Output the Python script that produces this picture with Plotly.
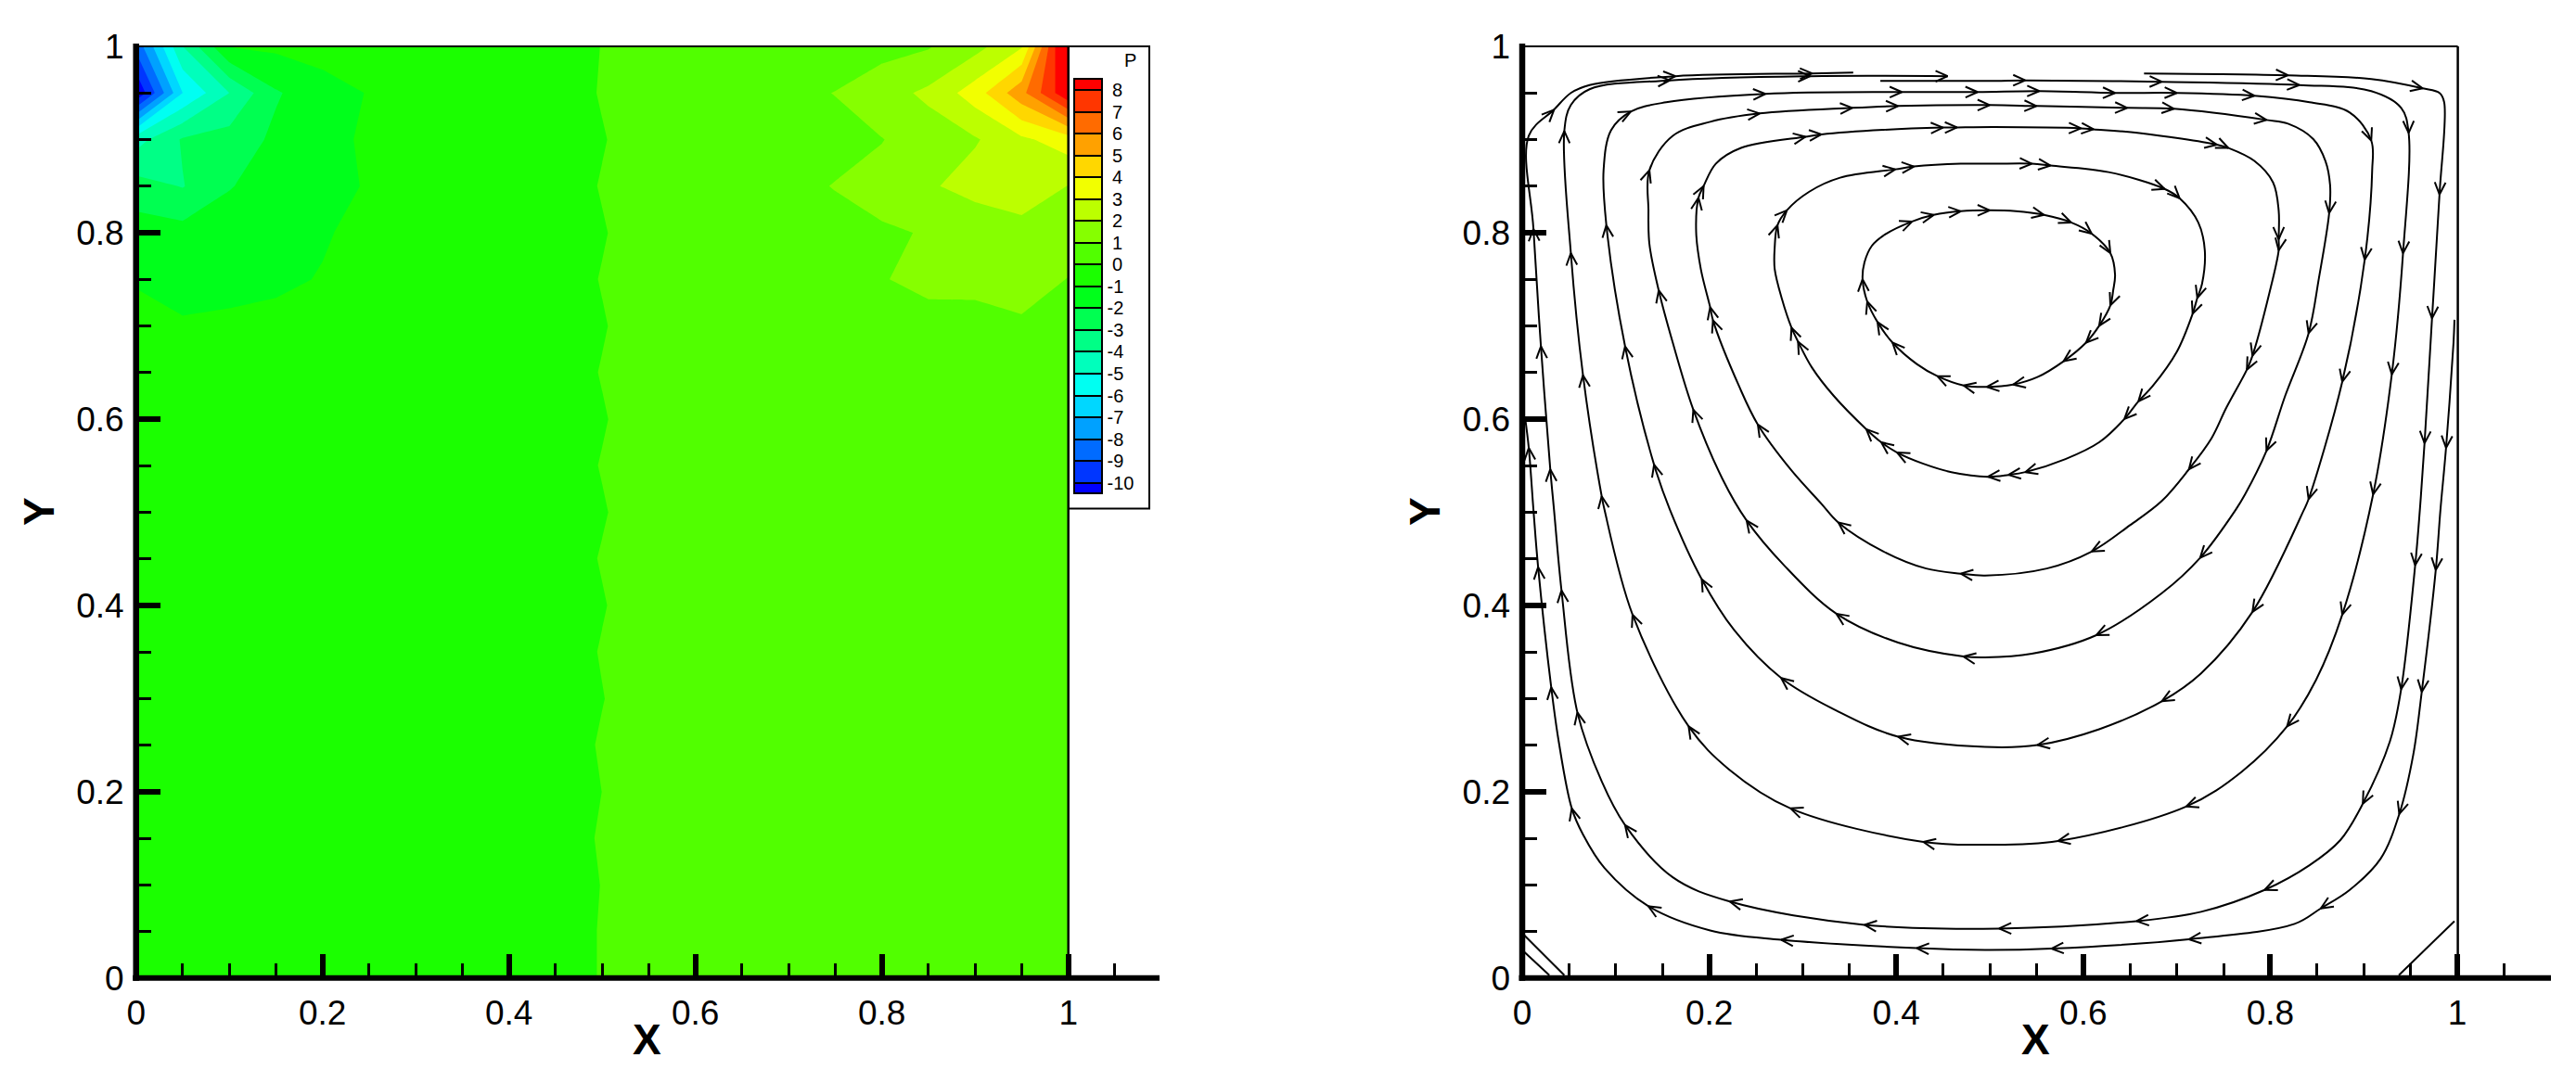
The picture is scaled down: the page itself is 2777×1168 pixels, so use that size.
import math

import plotly.graph_objects as go

# grid of the pressure field
grid_x = [0, 0.05, 0.1, 0.15, 0.2, 0.25, 0.3, 0.35, 0.4, 0.45, 0.5,
          0.55, 0.6, 0.65, 0.7, 0.75, 0.8, 0.85, 0.9, 0.95, 1]
grid_y = [1, 0.95, 0.9, 0.85, 0.8, 0.75, 0.7, 0.65, 0.6, 0.55, 0.5,
          0.45, 0.4, 0.35, 0.3, 0.25, 0.2, 0.15, 0.1, 0.05, 0]

pressure = [
    [-8.7, -4.0, -0.95, -0.8, -0.6, -0.5, -0.45, -0.4, -0.35, -0.25, 0.0125, 0.25, 0.3, 0.35, 0.42, 0.52, 0.65, 0.92, 1.65, 2.9, 10],
    [-11, -6, -4, -2.1, -1.4, -0.95, -0.8, -0.65, -0.5, -0.25, 0.035, 0.25, 0.45, 0.6, 0.8, 1.02, 1.6, 2.2, 3.5, 5.7, 8.9],
    [-4.4, -2.9, -2.6, -1.8, -1.3, -0.85, -0.7, -0.6, -0.45, -0.25, -0.03, 0.25, 0.4, 0.5, 0.6, 0.75, 0.97, 1.5, 1.9, 2.8, 3.53],
    [-2.6, -3.05, -2.05, -1.6, -1.2, -0.95, -0.7, -0.55, -0.45, -0.25, 0.03, 0.25, 0.35, 0.45, 0.8, 1.03, 1.3, 1.85, 2.45, 2.75, 1.97],
    [-1.5, -1.65, -1.55, -1.3, -1.05, -0.85, -0.65, -0.5, -0.4, -0.25, -0.035, 0.25, 0.32, 0.42, 0.55, 0.75, 0.9, 1.05, 1.15, 1.55, 1.4],
    [-1.05, -1.25, -1.2, -1.1, -0.97, -0.75, -0.6, -0.5, -0.4, -0.25, 0.025, 0.25, 0.3, 0.4, 0.5, 0.7, 0.97, 1.15, 1.2, 1.3, 0.98],
    [-0.8, -0.93, -0.88, -0.85, -0.75, -0.65, -0.55, -0.45, -0.35, -0.25, -0.035, 0.25, 0.3, 0.35, 0.45, 0.55, 0.75, 0.8, 0.75, 0.9, 0.82],
    [-0.7, -0.75, -0.72, -0.7, -0.62, -0.55, -0.5, -0.42, -0.33, -0.25, 0.025, 0.25, 0.28, 0.33, 0.4, 0.48, 0.58, 0.68, 0.7, 0.72, 0.65],
    [-0.62, -0.65, -0.62, -0.6, -0.55, -0.5, -0.45, -0.4, -0.32, -0.25, -0.0375, 0.25, 0.27, 0.32, 0.38, 0.43, 0.5, 0.56, 0.6, 0.6, 0.58],
    [-0.55, -0.57, -0.55, -0.52, -0.5, -0.46, -0.42, -0.37, -0.3, -0.25, 0.025, 0.25, 0.27, 0.3, 0.35, 0.4, 0.44, 0.48, 0.52, 0.52, 0.5],
    [-0.5, -0.5, -0.48, -0.46, -0.44, -0.42, -0.38, -0.34, -0.3, -0.25, -0.0375, 0.25, 0.26, 0.3, 0.33, 0.36, 0.4, 0.43, 0.45, 0.45, 0.45],
    [-0.45, -0.45, -0.43, -0.42, -0.4, -0.38, -0.36, -0.32, -0.28, -0.25, 0.03, 0.25, 0.26, 0.28, 0.31, 0.33, 0.36, 0.38, 0.4, 0.4, 0.4],
    [-0.4, -0.4, -0.39, -0.38, -0.37, -0.35, -0.33, -0.3, -0.28, -0.25, -0.03, 0.25, 0.26, 0.27, 0.29, 0.31, 0.33, 0.35, 0.36, 0.36, 0.36],
    [-0.37, -0.36, -0.36, -0.35, -0.34, -0.33, -0.31, -0.29, -0.27, -0.25, 0.03, 0.25, 0.25, 0.27, 0.28, 0.29, 0.31, 0.32, 0.33, 0.33, 0.33],
    [-0.34, -0.33, -0.33, -0.32, -0.32, -0.3, -0.29, -0.28, -0.26, -0.25, -0.015, 0.25, 0.25, 0.26, 0.27, 0.28, 0.29, 0.3, 0.3, 0.3, 0.3],
    [-0.31, -0.31, -0.3, -0.3, -0.29, -0.29, -0.28, -0.27, -0.26, -0.25, 0.045, 0.25, 0.25, 0.25, 0.26, 0.27, 0.27, 0.28, 0.28, 0.28, 0.28],
    [-0.29, -0.29, -0.28, -0.28, -0.28, -0.27, -0.27, -0.26, -0.25, -0.25, 0.0025, 0.25, 0.25, 0.25, 0.25, 0.26, 0.26, 0.26, 0.26, 0.27, 0.27],
    [-0.28, -0.27, -0.27, -0.27, -0.26, -0.26, -0.26, -0.25, -0.25, -0.25, 0.05, 0.25, 0.25, 0.25, 0.25, 0.25, 0.25, 0.25, 0.25, 0.25, 0.25],
    [-0.27, -0.27, -0.26, -0.26, -0.26, -0.25, -0.25, -0.25, -0.25, -0.25, 0.0125, 0.25, 0.25, 0.25, 0.25, 0.25, 0.25, 0.25, 0.25, 0.25, 0.25],
    [-0.26, -0.26, -0.26, -0.25, -0.25, -0.25, -0.25, -0.25, -0.25, -0.25, 0.0325, 0.25, 0.25, 0.25, 0.25, 0.25, 0.25, 0.25, 0.25, 0.25, 0.25],
    [-0.26, -0.25, -0.25, -0.25, -0.25, -0.25, -0.25, -0.25, -0.25, -0.25, 0.0325, 0.25, 0.25, 0.25, 0.25, 0.25, 0.25, 0.25, 0.25, 0.25, 0.25],
]

level_labels = ["-10", "-9", "-8", "-7", "-6", "-5", "-4", "-3", "-2", "-1",
                "\u00a00", "\u00a01", "\u00a02", "\u00a03", "\u00a04", "\u00a05", "\u00a06", "\u00a07", "\u00a08"]
level_vals = [-10, -9, -8, -7, -6, -5, -4, -3, -2, -1, 0, 1, 2, 3, 4, 5, 6, 7, 8]
band_colors = ["#0000ff", "#0036ff", "#006bff", "#00a1ff", "#00d7ff", "#00fff2", "#00ffbc",
               "#00ff86", "#00ff51", "#00ff1b", "#1bff00", "#51ff00", "#86ff00", "#bcff00",
               "#f2ff00", "#ffd700", "#ffa100", "#ff6b00", "#ff3600", "#ff0000"]

# streamlines of the right panel, traced clockwise; *_arrows = index of points carrying a head
stream_a_x = [0.497, 0.472, 0.444, 0.422, 0.396, 0.380, 0.369, 0.364, 0.366, 0.374, 0.388, 0.417, 0.440, 0.469, 0.500,
              0.528, 0.558, 0.587, 0.609, 0.629, 0.634, 0.632, 0.629, 0.617, 0.603, 0.579, 0.551, 0.525, 0.497]
stream_a_y = [0.6345, 0.636, 0.646, 0.659, 0.682, 0.704, 0.726, 0.750, 0.768, 0.786, 0.798, 0.812, 0.819, 0.823, 0.824,
              0.823, 0.819, 0.811, 0.799, 0.778, 0.755, 0.738, 0.722, 0.700, 0.682, 0.662, 0.645, 0.637, 0.6345]
stream_a_arrows = [1, 2, 4, 5, 6, 7, 11, 12, 13, 14, 16, 17, 18, 19, 22, 23, 24, 25, 27, 28]

stream_b_x = [0.498, 0.459, 0.429, 0.401, 0.384, 0.368, 0.333, 0.310, 0.295, 0.288, 0.278, 0.270, 0.270, 0.273, 0.283,
              0.307, 0.340, 0.399, 0.419, 0.469, 0.505, 0.545, 0.565, 0.627, 0.687, 0.703, 0.723, 0.730, 0.727, 0.722,
              0.717, 0.700, 0.674, 0.659, 0.644, 0.617, 0.581, 0.538, 0.520, 0.498]
stream_b_y = [0.538, 0.543, 0.552, 0.564, 0.575, 0.589, 0.625, 0.655, 0.683, 0.698, 0.728, 0.761, 0.784, 0.808, 0.824,
              0.844, 0.859, 0.868, 0.871, 0.874, 0.874, 0.874, 0.872, 0.865, 0.847, 0.837, 0.811, 0.781, 0.745, 0.730,
              0.713, 0.672, 0.635, 0.619, 0.600, 0.575, 0.557, 0.543, 0.540, 0.538]
stream_b_arrows = [3, 4, 5, 8, 9, 13, 14, 17, 18, 21, 22, 24, 25, 29, 30, 33, 34, 37, 38, 39]

stream_c_x = [0.495, 0.469, 0.432, 0.386, 0.338, 0.320, 0.287, 0.252, 0.232, 0.204, 0.201, 0.191, 0.186, 0.1885, 0.194,
              0.207, 0.234, 0.303, 0.320, 0.386, 0.450, 0.465, 0.505, 0.5976, 0.611, 0.660, 0.743, 0.755, 0.783, 0.803,
              0.809, 0.809, 0.809, 0.799, 0.781, 0.775, 0.753, 0.737, 0.713, 0.684, 0.650, 0.609, 0.561, 0.495]
stream_c_y = [0.432, 0.434, 0.4395, 0.458, 0.489, 0.509, 0.546, 0.594, 0.635, 0.706, 0.720, 0.761, 0.801, 0.8375, 0.850,
              0.874, 0.891, 0.903, 0.9055, 0.9104, 0.9128, 0.913, 0.9134, 0.912, 0.911, 0.907, 0.8945, 0.891, 0.877, 0.854,
              0.824, 0.793, 0.781, 0.735, 0.668, 0.653, 0.612, 0.579, 0.546, 0.512, 0.486, 0.4577, 0.4395, 0.432]
stream_c_arrows = [1, 4, 7, 9, 10, 13, 14, 17, 18, 20, 21, 23, 24, 26, 27, 31, 32, 34, 35, 38, 41]

stream_d_x = [0.495, 0.472, 0.402, 0.336, 0.280, 0.240, 0.214, 0.183, 0.161, 0.146, 0.136, 0.135, 0.136, 0.161, 0.201,
              0.254, 0.353, 0.402, 0.500, 0.550, 0.647, 0.697, 0.796, 0.819, 0.846, 0.859, 0.864, 0.863, 0.852, 0.841,
              0.816, 0.796, 0.773, 0.763, 0.725, 0.684, 0.614, 0.545, 0.495]
stream_d_y = [0.344, 0.345, 0.360, 0.391, 0.443, 0.491, 0.536, 0.610, 0.682, 0.738, 0.788, 0.824, 0.867, 0.904, 0.919,
              0.928, 0.934, 0.936, 0.937, 0.936, 0.934, 0.933, 0.921, 0.917, 0.9005, 0.877, 0.851, 0.821, 0.751, 0.692,
              0.625, 0.566, 0.519, 0.5025, 0.451, 0.413, 0.368, 0.348, 0.344]
stream_d_arrows = [1, 3, 5, 7, 9, 12, 15, 16, 17, 18, 19, 20, 21, 22, 27, 29, 31, 34, 36]

stream_e_x = [0.495, 0.402, 0.336, 0.277, 0.227, 0.192, 0.158, 0.141, 0.110, 0.090, 0.087, 0.095, 0.116, 0.154, 0.260,
              0.406, 0.487, 0.553, 0.634, 0.700, 0.783, 0.842, 0.885, 0.908, 0.909, 0.901, 0.877, 0.841, 0.836, 0.781,
              0.726, 0.684, 0.617, 0.551, 0.495]
stream_e_y = [0.248, 0.259, 0.287, 0.322, 0.373, 0.428, 0.5025, 0.551, 0.678, 0.808, 0.867, 0.910, 0.930, 0.940, 0.949,
              0.951, 0.951, 0.952, 0.950, 0.950, 0.947, 0.940, 0.929, 0.899, 0.867, 0.771, 0.640, 0.514, 0.5025, 0.393,
              0.327, 0.297, 0.267, 0.250, 0.248]
stream_e_arrows = [1, 3, 5, 7, 8, 9, 12, 14, 15, 16, 17, 18, 19, 20, 23, 25, 26, 27, 29, 31, 33]

stream_f_x = [0.383, 0.505, 0.538, 0.684, 0.831, 0.908, 0.940, 0.948, 0.942, 0.930, 0.910, 0.877, 0.849, 0.818, 0.769,
              0.710, 0.573, 0.495, 0.429, 0.287, 0.221, 0.178, 0.118, 0.088, 0.085, 0.065, 0.052, 0.045, 0.052, 0.072,
              0.158, 0.308, 0.455]
stream_f_y = [0.963, 0.963, 0.9635, 0.962, 0.9585, 0.952, 0.934, 0.907, 0.778, 0.648, 0.519, 0.390, 0.320, 0.270, 0.221,
              0.184, 0.147, 0.143, 0.146, 0.182, 0.224, 0.270, 0.390, 0.5025, 0.517, 0.647, 0.778, 0.909, 0.937, 0.954,
              0.9635, 0.968, 0.968]
stream_f_arrows = [2, 3, 4, 7, 8, 9, 10, 11, 13, 15, 16, 18, 19, 21, 22, 24, 25, 26, 27, 30, 31, 32]

stream_g_x = [0.665, 0.819, 0.908, 0.963, 0.981, 0.986, 0.981, 0.973, 0.965, 0.960, 0.955, 0.940, 0.928, 0.899, 0.875,
              0.842, 0.794, 0.726, 0.657, 0.510, 0.366, 0.222, 0.161, 0.110, 0.085, 0.059, 0.042, 0.034, 0.030, 0.020,
              0.012, 0.007, 0.034, 0.052, 0.072, 0.164, 0.310, 0.354]
stream_g_y = [0.971, 0.969, 0.965, 0.955, 0.950, 0.940, 0.841, 0.708, 0.574, 0.5025, 0.443, 0.310, 0.254, 0.187, 0.148,
              0.121, 0.0945, 0.071, 0.061, 0.053, 0.057, 0.082, 0.108, 0.164, 0.211, 0.285, 0.416, 0.5025, 0.546, 0.678,
              0.804, 0.904, 0.932, 0.950, 0.9585, 0.968, 0.971, 0.972]
stream_g_arrows = [1, 3, 6, 7, 8, 10, 11, 13, 16, 18, 19, 20, 21, 23, 25, 26, 28, 29, 30, 32, 35, 36]

stream_h_x = [0.997, 0.996, 0.988, 0.982, 0.977, 0.962, 0.953, 0.938, 0.918, 0.885, 0.854, 0.826, 0.713, 0.566, 0.495,
              0.422, 0.277, 0.201, 0.135, 0.088, 0.065, 0.053, 0.039, 0.031, 0.017, 0.012, 0.007, 0.003]
stream_h_y = [0.7065, 0.682, 0.569, 0.5025, 0.438, 0.307, 0.240, 0.176, 0.128, 0.0945, 0.0746, 0.058, 0.0415, 0.0315, 0.030,
              0.032, 0.041, 0.051, 0.077, 0.118, 0.154, 0.182, 0.254, 0.312, 0.441, 0.5025, 0.569, 0.602]
stream_h_arrows = [2, 4, 5, 7, 10, 12, 13, 15, 16, 18, 21, 23, 24, 26]

corner_a_x = [0.002, 0.045]
corner_a_y = [0.046, 0.003]
corner_b_x = [0.002, 0.029]
corner_b_y = [0.028, 0.003]
corner_c_x = [0.9375, 0.997]
corner_c_y = [0.003, 0.061]

W, H = 2777, 1168


def px(v):
    return v / W


def py(v):
    return 1 - v / H


colorscale = [[i / 19, c] for i, c in enumerate(band_colors)]

fig = go.Figure()

fig.add_trace(go.Contour(
    x=grid_x, y=grid_y[::-1], z=pressure[::-1],
    xaxis="x", yaxis="y",
    colorscale=colorscale,
    autocontour=False,
    contours=dict(start=-10, end=8, size=1, coloring="fill", showlines=False),
    line=dict(width=0, smoothing=0),
    colorbar=dict(
        x=px(1158), xanchor="left", xpad=0,
        y=py(85.4), yanchor="top", ypad=0,
        lenmode="pixels", len=447,
        thicknessmode="pixels", thickness=30,
        outlinecolor="black", outlinewidth=2,
        borderwidth=0, bgcolor="rgba(0,0,0,0)",
        tickmode="array", tickvals=level_vals, ticktext=level_labels,
        ticks="inside", ticklen=30, tickwidth=1.5, tickcolor="black",
        tickfont=dict(family="Liberation Sans", size=20, color="black"),
    ),
))


def arrow_heads(sx, sy, arrows):
    # two short barbs behind each tip, direction taken from the neighbouring points
    hx, hy = [], []
    for i in arrows:
        a = max(i - 1, 0)
        b = min(i + 1, len(sx) - 1)
        ang = math.atan2(sy[b] - sy[a], sx[b] - sx[a])
        for side in (-1, 1):
            hx += [sx[i], sx[i] - 0.0142 * math.cos(ang + side * 0.42), None]
            hy += [sy[i], sy[i] - 0.0142 * math.sin(ang + side * 0.42), None]
    return hx, hy


streams = [
    (stream_a_x, stream_a_y, stream_a_arrows),
    (stream_b_x, stream_b_y, stream_b_arrows),
    (stream_c_x, stream_c_y, stream_c_arrows),
    (stream_d_x, stream_d_y, stream_d_arrows),
    (stream_e_x, stream_e_y, stream_e_arrows),
    (stream_f_x, stream_f_y, stream_f_arrows),
    (stream_g_x, stream_g_y, stream_g_arrows),
    (stream_h_x, stream_h_y, stream_h_arrows),
]
for sx, sy, arrows in streams:
    fig.add_trace(go.Scatter(
        x=sx, y=sy, xaxis="x2", yaxis="y2", mode="lines",
        line=dict(color="black", width=2, shape="spline", smoothing=1),
        showlegend=False, hoverinfo="skip",
    ))
    hx, hy = arrow_heads(sx, sy, arrows)
    fig.add_trace(go.Scatter(
        x=hx, y=hy, xaxis="x2", yaxis="y2", mode="lines",
        line=dict(color="black", width=2), showlegend=False, hoverinfo="skip",
    ))

for cx, cy in [(corner_a_x, corner_a_y), (corner_b_x, corner_b_y), (corner_c_x, corner_c_y)]:
    fig.add_trace(go.Scatter(x=cx, y=cy, xaxis="x2", yaxis="y2", mode="lines",
                             line=dict(color="black", width=2), showlegend=False, hoverinfo="skip"))

tick_font = dict(family="Liberation Sans", size=37, color="black")
title_font = dict(family="Liberation Sans", size=46, color="black")
minor = dict(ticks="inside", ticklen=16, tickwidth=2.5, tickcolor="black", dtick=0.05, tick0=0, showgrid=False)


def axis(domain, rng, anchor):
    return dict(
        domain=domain, range=rng, tick0=0, dtick=0.2, anchor=anchor, automargin=False,
        ticks="inside", ticklen=26, tickwidth=6, tickcolor="black",
        minor=minor, tickfont=tick_font, showgrid=False, zeroline=False, showline=False,
        ticklabelstandoff=12,
    )


fig.update_layout(
    width=W, height=H, margin=dict(l=0, r=0, t=0, b=0),
    paper_bgcolor="white", plot_bgcolor="white", showlegend=False,
    xaxis=axis([px(146.7), px(1252.2)], [0, 1.1], "y"),
    yaxis=axis([py(1054.7), py(50)], [0, 1], "x"),
    xaxis2=axis([px(1641), px(2749.8)], [0, 1.1], "y2"),
    yaxis2=axis([py(1054.7), py(50)], [0, 1], "x2"),
)

frame = []
for x0, x_one, x_end in [(146.7, 1151.7, 1250), (1641, 2649.6, 2750)]:
    frame += [
        dict(x0=px(x0 - 3.5), x1=px(x_end), y0=py(1054.7), y1=py(1054.7), width=6),
        dict(x0=px(x0), x1=px(x0), y0=py(1057.7), y1=py(47), width=6.5),
        dict(x0=px(x0), x1=px(x_one), y0=py(50), y1=py(50), width=2),
        dict(x0=px(x_one), x1=px(x_one), y0=py(1054.7), y1=py(50), width=2.5),
    ]
shapes = [dict(type="rect", xref="paper", yref="paper", x0=px(1152), x1=px(1239), y0=py(548.6), y1=py(50),
               fillcolor="white", line=dict(color="black", width=2), layer="above")]
for f in frame:
    shapes.append(dict(type="line", xref="paper", yref="paper", x0=f["x0"], x1=f["x1"], y0=f["y0"], y1=f["y1"],
                       line=dict(color="black", width=f["width"]), layer="above"))
fig.update_layout(shapes=shapes)

fig.add_annotation(text="P", xref="paper", yref="paper", x=px(1218), y=py(65), showarrow=False,
                   xanchor="center", yanchor="middle",
                   font=dict(family="Liberation Sans", size=20, color="black"))
for x_pos in (697, 2194):
    fig.add_annotation(text="<b>X</b>", xref="paper", yref="paper", x=px(x_pos), y=py(1121), showarrow=False,
                       xanchor="center", yanchor="middle", font=title_font)
for x_pos in (42, 1536):
    fig.add_annotation(text="<b>Y</b>", xref="paper", yref="paper", x=px(x_pos), y=py(552), showarrow=False,
                       xanchor="center", yanchor="middle", textangle=-90, font=title_font)

fig.write_html("out.html", config=dict(displayModeBar=False),
               post_script="document.body.style.margin='0';document.body.style.overflow='hidden';")
